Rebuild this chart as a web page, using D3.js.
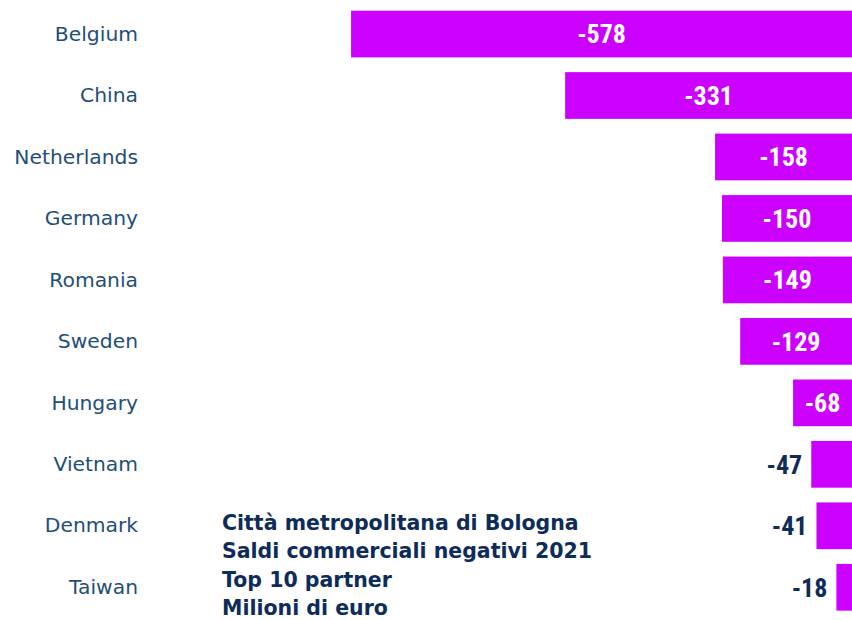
<!DOCTYPE html>
<html>
<head>
<meta charset="utf-8">
<script src="https://cdn.jsdelivr.net/npm/d3@7"></script>
<style>
  html, body { margin: 0; padding: 0; background: #fff; }
  svg { display: block; }
</style>
</head>
<body>
<svg id="chart" width="852" height="620"></svg>
<script>
// Top 10 partners with a negative trade balance, 2021 (millions of euro)
const countries = ["Belgium", "China", "Netherlands", "Germany", "Romania",
                   "Sweden", "Hungary", "Vietnam", "Denmark", "Taiwan"];
const balances = [-578, -331, -158, -150, -149, -129, -68, -47, -41, -18];
const titleLines = [
  "Città metropolitana di Bologna",
  "Saldi commerciali negativi 2021",
  "Top 10 partner",
  "Milioni di euro"
];

const rows = countries.map((c, i) => ({ country: c, value: balances[i] }));

const svg = d3.select("#chart");
const W = 852;

const barColor = "#cc00ff";
const catColor = "#1f4e79";
const navy = "#0e2c5a";

const y = d3.scaleBand()
  .domain(countries)
  .range([3.3, 618])
  .paddingInner(0.24)
  .paddingOuter(0.12);

const x = d3.scaleLinear()
  .domain([-600, 0])
  .range([332, W]);

// category axis on the left, without line or ticks
const yAxis = d3.axisLeft(y).tickSize(0).tickPadding(0);
const gy = svg.append("g")
  .attr("transform", "translate(138,0)")
  .call(yAxis);
gy.select(".domain").remove();
gy.selectAll("text")
  .attr("fill", catColor)
  .style("font-family", "'DejaVu Sans', sans-serif")
  .style("font-size", "20.3px")
  .attr("dy", "0.33em");

// bars grow leftwards from zero
svg.append("g").selectAll("rect")
  .data(rows)
  .join("rect")
  .attr("x", d => x(d.value))
  .attr("y", d => y(d.country))
  .attr("width", d => x(0) - x(d.value))
  .attr("height", y.bandwidth())
  .attr("fill", barColor);

// value labels: inside the bar when it is wide enough, otherwise to its left
const minInside = 50;
const inside = d => (x(0) - x(d.value)) >= minInside;
svg.append("g").selectAll("text")
  .data(rows)
  .join("text")
  .attr("x", d => inside(d) ? (x(d.value) + x(0)) / 2 : x(d.value) - 9)
  .attr("y", d => y(d.country) + y.bandwidth() / 2)
  .attr("dy", "0.36em")
  .attr("text-anchor", d => inside(d) ? "middle" : "end")
  .attr("fill", d => inside(d) ? "#ffffff" : navy)
  .style("font-family", "'Liberation Sans Narrow', 'Roboto Condensed', 'Roboto', sans-serif")
  .style("font-weight", "bold")
  .style("font-size", "26px")
  .text(d => d3.format("d")(d.value).replace("−", "-"));

// chart title block
svg.append("g").selectAll("text")
  .data(titleLines)
  .join("text")
  .attr("x", 222)
  .attr("y", (d, i) => 529.5 + i * 28.5)
  .attr("fill", navy)
  .style("font-family", "'DejaVu Sans', sans-serif")
  .style("font-weight", "bold")
  .style("font-size", "20.5px")
  .text(d => d);
</script>
</body>
</html>
